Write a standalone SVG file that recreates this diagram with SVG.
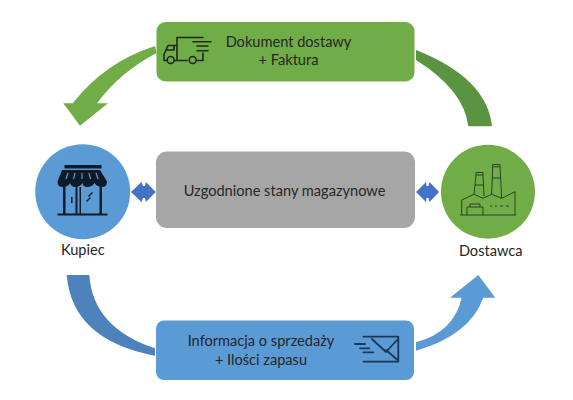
<svg xmlns="http://www.w3.org/2000/svg" width="573" height="400" viewBox="0 0 573 400">
<style>
text{font-family:"Lato","Liberation Sans",sans-serif;fill:#262626;text-anchor:middle;font-size:14.6px}
.ink{fill:none;stroke:#1f2a1a;stroke-width:1.6;stroke-linecap:round;stroke-linejoin:round}
.thin{fill:none;stroke:#2e4027;stroke-width:1}
.shop{fill:#0f1a28}
.mail{fill:none;stroke:#1d3557;stroke-width:1.8;stroke-linecap:round;stroke-linejoin:round}
.both{fill:#4472c4}
</style>
<rect width="573" height="400" fill="#fff"/>
<g id="connectors">
<path fill="#70ad47" d="M155 46Q105 62 72.700 103.300L63.300 103.300L80 125.700L108 103.300L97 103.300Q120 72 156.700 53Z"/>
<path fill="#5a9440" d="M416 50Q487 78 492 126.300L468.300 126.300Q464 90 416 60Z"/>
<path fill="#4d82bc" d="M66.700 275L89.300 275Q93 328 155 348.300L155 355.700Q72 340 66.700 275Z"/>
<path fill="#5b9bd5" d="M416 342.300Q454 332 461.700 297.700L450 297.700L478.300 275L495.300 297.700L483.300 297.700Q470 335 416 350.700Z"/>
<path class="both" d="M131 192L141.500 182L143 186L145 186L146 182L155.700 192L146 202L145 198L143 198L141.500 202Z"/>
<path class="both" d="M416 192L426 182L426.500 186L428.500 186L429.500 182L439 192L429.500 202L428.500 198L426.500 198L426 202Z"/>
</g>
<g id="dokument">
<rect x="156.500" y="22" width="258" height="59.500" rx="9" fill="#70ad47"/>
<path class="ink" d="M177 60.500H174.500M167 60.500H164V54.500L168 45.500H177V37.500H203M177 45.500V60.500M196.500 60.500H203V53M187 60.500H177M167 50H174V45.500"/>
<circle class="ink" cx="170.700" cy="60" r="3.500"/>
<circle class="ink" cx="192.700" cy="60" r="3.500"/>
<path class="ink" d="M193 41.700H211M197 46H208M197 50.700H208"/>
<text x="288.500" y="47">Dokument dostawy</text>
<text x="288.500" y="65">+ Faktura</text>
</g>
<g id="stany">
<rect x="156" y="151.500" width="259" height="76.500" rx="11" fill="#a6a6a6"/>
<text x="284.500" y="196">Uzgodnione stany magazynowe</text>
</g>
<g id="informacja">
<rect x="156" y="320.500" width="258" height="59.500" rx="8" fill="#5b9bd5"/>
<path class="mail" d="M363.500 336.700H398.300V361.700H363.500M372 339L386 352L398 339M386 350L397 359.500M355 344H365M360 348.300H369.300M363.300 352.300H373.300"/>
<text x="261" y="346">Informacja o sprzedaży</text>
<text x="261" y="365">+ Ilości zapasu</text>
</g>
<g id="kupiec">
<circle cx="82.700" cy="191.700" r="47.500" fill="#5b9bd5"/>
<rect class="shop" x="64.500" y="165" width="37" height="3.500"/>
<path class="shop" d="M62 170H100L107 181.500Q107 187 102 187Q97 187 94.500 183Q92 187 87.500 187Q83 187 82.500 183Q80 187 75.500 187Q71 187 70 183Q68 187 63 187Q57.500 187 57.500 181.500Z"/>
<path d="M68 173L66 179M75 173L73.500 179M82 173V179M89 173L90.500 179M96 173L98 179" stroke="#5b9bd5" stroke-width="1.200" fill="none"/>
<path class="shop" d="M57.500 213.500H107.500V215.500H57.500ZM63 187H65.500V213.500H63ZM99.500 187H102V213.500H99.500ZM75.500 187H77.500V213.500H75.500ZM79.500 187H81V213.500H79.500ZM71 197H72.500V203H71ZM88 196L92 192L93 193L89 197ZM86 201L90 197L91 198L87 202Z"/>
<text x="82.800" y="255">Kupiec</text>
</g>
<g id="dostawca">
<circle cx="488" cy="191.700" r="47" fill="#70ad47"/>
<path class="thin" d="M460 215H516M461.700 215V200L474 194.300L483 198.300L491.700 194.300L501.700 198.300L515 191.700V215M474 194.300L476 175H483L484 196M476 175V172.500H483V175M475 185H483.500M491.700 194.300L492.700 166.700H500L501.700 198.300M492.700 166.700V164.500H500V166.700M492.200 178H500.700M467 215V207H483V215M470 207V204H480V207M490 206H492M495 206H497M500 206H503M506 206H509"/>
<text x="490.700" y="255.700">Dostawca</text>
</g>
</svg>
